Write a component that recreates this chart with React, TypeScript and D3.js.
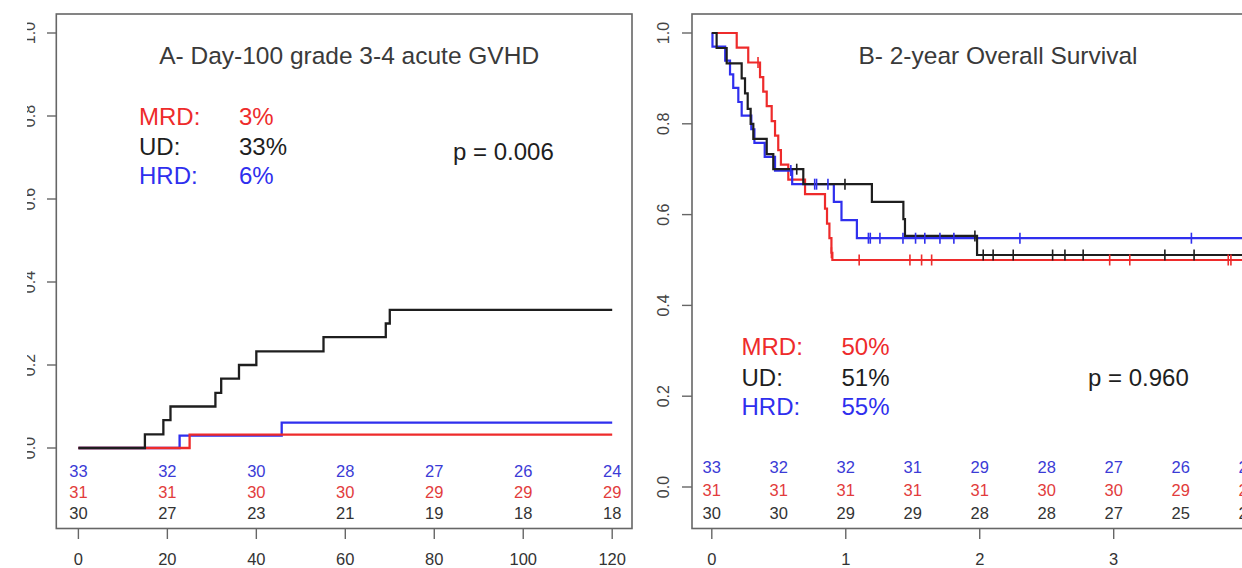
import React from "react";
import * as d3 from "d3";

// ---------- Panel A: Day-100 grade 3-4 acute GVHD (cumulative incidence) ----------
const gvhdUD: [number, number][] = [
  [0, 0], [14.95, 0.033], [19.1, 0.067], [20.7, 0.1], [30.8, 0.133], [32.1, 0.167],
  [36.1, 0.2], [40, 0.233], [55.1, 0.267], [69.1, 0.3], [70, 0.333], [120, 0.333],
];
const gvhdHRD: [number, number][] = [[0, 0], [22.75, 0.03], [45.7, 0.061], [120, 0.061]];
const gvhdMRD: [number, number][] = [[0, 0], [25, 0.032], [120, 0.032]];

const riskTimesA = [0, 20, 40, 60, 80, 100, 120];
const riskA_HRD = [33, 32, 30, 28, 27, 26, 24];
const riskA_MRD = [31, 31, 30, 30, 29, 29, 29];
const riskA_UD = [30, 27, 23, 21, 19, 18, 18];
const xTicksA = [0, 20, 40, 60, 80, 100, 120];
const yTicks = [0, 0.2, 0.4, 0.6, 0.8, 1.0];

// ---------- Panel B: 2-year Overall Survival (Kaplan-Meier) ----------
const osMRD: [number, number][] = [
  [0, 1], [0.186, 0.968], [0.272, 0.935], [0.36, 0.903], [0.384, 0.871], [0.41, 0.839],
  [0.447, 0.806], [0.472, 0.774], [0.496, 0.742], [0.516, 0.71], [0.571, 0.677],
  [0.696, 0.645], [0.845, 0.613], [0.86, 0.58], [0.878, 0.548], [0.893, 0.516],
  [0.9, 0.5], [4.2, 0.5],
];
const osUD: [number, number][] = [
  [0, 1], [0.036, 0.967], [0.111, 0.933], [0.223, 0.9], [0.248, 0.867], [0.268, 0.833],
  [0.29, 0.8], [0.31, 0.767], [0.41, 0.733], [0.459, 0.7], [0.683, 0.667],
  [1.195, 0.628], [1.43, 0.59], [1.442, 0.553], [1.98, 0.511], [4.2, 0.511],
];
const osHRD: [number, number][] = [
  [0, 1], [0.005, 0.97], [0.1, 0.939], [0.136, 0.909], [0.16, 0.879], [0.198, 0.848],
  [0.223, 0.818], [0.295, 0.788], [0.318, 0.758], [0.395, 0.727], [0.472, 0.697],
  [0.6, 0.667], [0.911, 0.628], [0.968, 0.588], [1.083, 0.548], [4.2, 0.548],
];
const censMRD = [0.345, 0.893, 1.1, 1.479, 1.566, 1.641, 2.97, 3.12, 3.855, 3.875];
const censUD = [0.634, 0.994, 1.964, 2.026, 2.1, 2.25, 2.544, 2.636, 2.772, 3.382, 3.6];
const censHRD = [0.59, 0.768, 0.782, 0.867, 1.169, 1.183, 1.255, 1.427, 1.521, 1.59, 1.703, 1.807, 2.3, 3.58];

const riskTimesB = [0, 0.5, 1, 1.5, 2, 2.5, 3, 3.5, 4];
const riskB_HRD = [33, 32, 32, 31, 29, 28, 27, 26, 25];
const riskB_MRD = [31, 31, 31, 31, 31, 30, 30, 29, 29];
const riskB_UD = [30, 30, 29, 29, 28, 28, 27, 25, 25];
const xTicksB = [0, 1, 2, 3, 4];

const RED = "#ee2b2b";
const BLUE = "#2f2fee";
const BLACK = "#1e1e1e";
const RISK_RED = "#e23c3c";
const RISK_BLUE = "#3b3bd6";
const RISK_BLACK = "#333333";
const AXIS = "#666666";
const FONT = "'Liberation Sans', Arial, Helvetica, sans-serif";

function survAt(curve: [number, number][], t: number) {
  let v = curve[0][1];
  for (const [ct, cv] of curve) {
    if (ct <= t) v = cv;
    else break;
  }
  return v;
}

export default function App() {
  const W = 1242, H = 568;

  const xA = d3.scaleLinear().domain([0, 120]).range([78.4, 612.2]);
  const yA = d3.scaleLinear().domain([0, 1]).range([448, 33]);
  const xB = d3.scaleLinear().domain([0, 3]).range([711.8, 1113.7]);
  const yB = d3.scaleLinear().domain([0, 1]).range([487, 33]);

  const lineA = d3.line<[number, number]>().x(d => xA(d[0])).y(d => yA(d[1])).curve(d3.curveStepAfter);
  const lineB = d3.line<[number, number]>().x(d => xB(d[0])).y(d => yB(d[1])).curve(d3.curveStepAfter);

  const boxA = { x0: 56.3, x1: 632, y0: 14, y1: 528.5 };
  const boxB = { x0: 692, x1: 1300, y0: 14, y1: 528.5 };

  const legendA = { x1: 139, x2: 239, ys: [125, 155, 184] };
  const legendB = { x1: 741.5, x2: 841.5, ys: [355, 385.5, 415] };

  const censorMarks = (times: number[], curve: [number, number][], color: string, key: string) =>
    times.map((t, i) => {
      const x = xB(t);
      const y = yB(survAt(curve, t));
      return <line key={key + i} x1={x} x2={x} y1={y - 5.5} y2={y + 5.5} stroke={color} strokeWidth={1.6} />;
    });

  return (
    <svg width={W} height={H} viewBox={`0 0 ${W} ${H}`}
      style={{ position: "absolute", left: 0, top: 0, background: "#fff" }}
      fontFamily={FONT}>
      <defs>
        <clipPath id="clipLeftLabels">
          <rect x={27} y={0} width={40} height={H} />
        </clipPath>
      </defs>
      <rect x={0} y={0} width={W} height={H} fill="#fff" />

      {/* ---------------- Panel A ---------------- */}
      <rect x={boxA.x0} y={boxA.y0} width={boxA.x1 - boxA.x0} height={boxA.y1 - boxA.y0}
        fill="none" stroke={AXIS} strokeWidth={1.6} />
      {yTicks.map(v => (
        <line key={"ayt" + v} x1={47} x2={boxA.x0} y1={yA(v)} y2={yA(v)} stroke={AXIS} strokeWidth={1.4} />
      ))}
      <g clipPath="url(#clipLeftLabels)">
        {yTicks.map(v => (
          <text key={"ayl" + v} transform={`translate(34.5,${yA(v)}) rotate(-90)`} textAnchor="middle"
            fontSize={16} fill="#444">{v.toFixed(1)}</text>
        ))}
      </g>
      {xTicksA.map(t => (
        <g key={"axt" + t}>
          <line x1={xA(t)} x2={xA(t)} y1={boxA.y1} y2={539} stroke={AXIS} strokeWidth={1.4} />
          <text x={xA(t)} y={565} textAnchor="middle" fontSize={16.5} fill="#333">{t}</text>
        </g>
      ))}
      <path d={lineA(gvhdHRD) ?? ""} fill="none" stroke={BLUE} strokeWidth={2.3} />
      <path d={lineA(gvhdMRD) ?? ""} fill="none" stroke={RED} strokeWidth={2.3} />
      <path d={lineA(gvhdUD) ?? ""} fill="none" stroke={BLACK} strokeWidth={2.3} />

      <text x={(boxA.x0 + boxA.x1) / 2 + 5} y={64} textAnchor="middle" fontSize={24.5} fill="#3a3a3a">
        A- Day-100 grade 3-4 acute GVHD
      </text>
      <text x={legendA.x1} y={legendA.ys[0]} fontSize={24} fill={RED}>MRD:</text>
      <text x={legendA.x2} y={legendA.ys[0]} fontSize={24} fill={RED}>3%</text>
      <text x={legendA.x1} y={legendA.ys[1]} fontSize={24} fill={BLACK}>UD:</text>
      <text x={legendA.x2} y={legendA.ys[1]} fontSize={24} fill={BLACK}>33%</text>
      <text x={legendA.x1} y={legendA.ys[2]} fontSize={24} fill={BLUE}>HRD:</text>
      <text x={legendA.x2} y={legendA.ys[2]} fontSize={24} fill={BLUE}>6%</text>
      <text x={453} y={160} fontSize={24} fill={BLACK}>p = 0.006</text>

      {riskTimesA.map((t, i) => (
        <g key={"ar" + t} fontSize={16.5} textAnchor="middle">
          <text x={xA(t)} y={476.5} fill={RISK_BLUE}>{riskA_HRD[i]}</text>
          <text x={xA(t)} y={497.5} fill={RISK_RED}>{riskA_MRD[i]}</text>
          <text x={xA(t)} y={518.5} fill={RISK_BLACK}>{riskA_UD[i]}</text>
        </g>
      ))}

      {/* ---------------- Panel B ---------------- */}
      <rect x={boxB.x0} y={boxB.y0} width={boxB.x1 - boxB.x0} height={boxB.y1 - boxB.y0}
        fill="none" stroke={AXIS} strokeWidth={1.6} />
      {yTicks.map(v => (
        <g key={"byt" + v}>
          <line x1={682} x2={boxB.x0} y1={yB(v)} y2={yB(v)} stroke={AXIS} strokeWidth={1.4} />
          <text transform={`translate(669,${yB(v)}) rotate(-90)`} textAnchor="middle"
            fontSize={16} fill="#444">{v.toFixed(1)}</text>
        </g>
      ))}
      {xTicksB.map(t => (
        <g key={"bxt" + t}>
          <line x1={xB(t)} x2={xB(t)} y1={boxB.y1} y2={539} stroke={AXIS} strokeWidth={1.4} />
          <text x={xB(t)} y={565} textAnchor="middle" fontSize={16.5} fill="#333">{t}</text>
        </g>
      ))}

      <path d={lineB(osMRD) ?? ""} fill="none" stroke={RED} strokeWidth={2.2} />
      <path d={lineB(osHRD) ?? ""} fill="none" stroke={BLUE} strokeWidth={2.2} />
      <path d={lineB(osUD) ?? ""} fill="none" stroke={BLACK} strokeWidth={2.2} />
      {censorMarks(censMRD, osMRD, RED, "cm")}
      {censorMarks(censHRD, osHRD, BLUE, "ch")}
      {censorMarks(censUD, osUD, BLACK, "cu")}

      <text x={998} y={64} textAnchor="middle" fontSize={24.5} fill="#3a3a3a">
        B- 2-year Overall Survival
      </text>
      <text x={legendB.x1} y={legendB.ys[0]} fontSize={24} fill={RED}>MRD:</text>
      <text x={legendB.x2} y={legendB.ys[0]} fontSize={24} fill={RED}>50%</text>
      <text x={legendB.x1} y={legendB.ys[1]} fontSize={24} fill={BLACK}>UD:</text>
      <text x={legendB.x2} y={legendB.ys[1]} fontSize={24} fill={BLACK}>51%</text>
      <text x={legendB.x1} y={legendB.ys[2]} fontSize={24} fill={BLUE}>HRD:</text>
      <text x={legendB.x2} y={legendB.ys[2]} fontSize={24} fill={BLUE}>55%</text>
      <text x={1088} y={385.5} fontSize={24} fill={BLACK}>p = 0.960</text>

      {riskTimesB.map((t, i) => (
        <g key={"br" + t} fontSize={16.5} textAnchor="middle">
          <text x={xB(t)} y={473} fill={RISK_BLUE}>{riskB_HRD[i]}</text>
          <text x={xB(t)} y={496} fill={RISK_RED}>{riskB_MRD[i]}</text>
          <text x={xB(t)} y={519} fill={RISK_BLACK}>{riskB_UD[i]}</text>
        </g>
      ))}
    </svg>
  );
}
